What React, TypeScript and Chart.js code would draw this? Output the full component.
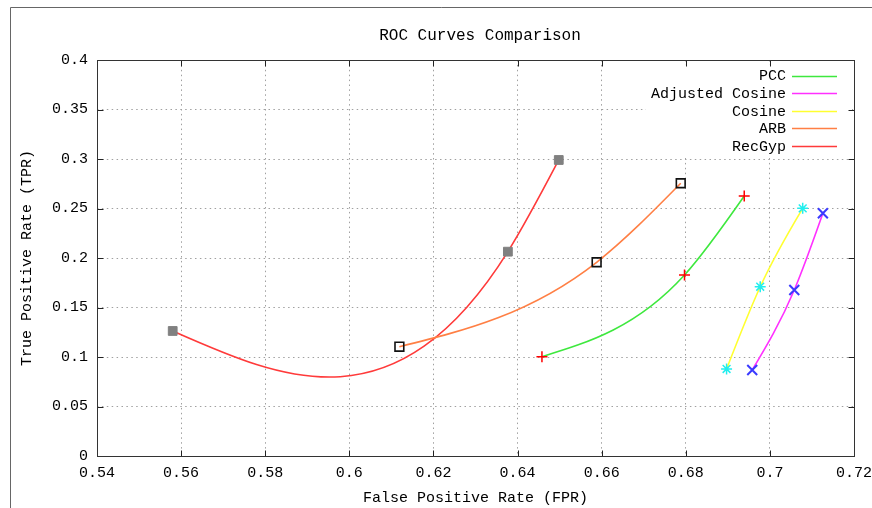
import React, { useEffect, useRef } from "react";
import { Chart, registerables } from "chart.js";

Chart.register(...registerables);

const FONT = "'Liberation Mono', 'DejaVu Sans Mono', monospace";

const chartTitle = "ROC Curves Comparison";
const xAxisTitle = "False Positive Rate (FPR)";
const yAxisTitle = "True Positive Rate (TPR)";

const xTickValues = [0.54, 0.56, 0.58, 0.6, 0.62, 0.64, 0.66, 0.68, 0.7, 0.72];
const xTickLabels = ["0.54", "0.56", "0.58", "0.6", "0.62", "0.64", "0.66", "0.68", "0.7", "0.72"];
const yTickValues = [0, 0.05, 0.1, 0.15, 0.2, 0.25, 0.3, 0.35, 0.4];
const yTickLabels = ["0", "0.05", "0.1", "0.15", "0.2", "0.25", "0.3", "0.35", "0.4"];

const seriesNames = ["PCC", "Adjusted Cosine", "Cosine", "ARB", "RecGyp"];

const pccFpr = [0.6458, 0.6797, 0.6939];
const pccTpr = [0.1003, 0.1828, 0.2626];

const adjCosineFpr = [0.6958, 0.7058, 0.7126];
const adjCosineTpr = [0.0869, 0.1677, 0.2452];

const cosineFpr = [0.6897, 0.6977, 0.7078];
const cosineTpr = [0.0879, 0.171, 0.2502];

const arbFpr = [0.6119, 0.6588, 0.6788];
const arbTpr = [0.1104, 0.1957, 0.2755];

const recGypFpr = [0.558, 0.6377, 0.6498];
const recGypTpr = [0.1263, 0.2064, 0.299];

const lineColors = ["#3ee83e", "#ff30ff", "#ffff30", "#ff7f44", "#ff3a3a"];

function pairs(xs: number[], ys: number[]) {
  return xs.map((x, i) => ({ x, y: ys[i] }));
}

// natural cubic spline second derivatives (gnuplot "smooth csplines")
function naturalM(xs: number[], ys: number[]): number[] {
  const n = xs.length;
  const M = new Array(n).fill(0);
  if (n > 2) {
    const a: number[] = [], b: number[] = [], c: number[] = [], d: number[] = [];
    for (let i = 1; i < n - 1; i++) {
      const h0 = xs[i] - xs[i - 1];
      const h1 = xs[i + 1] - xs[i];
      a.push(h0);
      b.push(2 * (h0 + h1));
      c.push(h1);
      d.push(6 * ((ys[i + 1] - ys[i]) / h1 - (ys[i] - ys[i - 1]) / h0));
    }
    const m = b.length;
    for (let i = 1; i < m; i++) {
      const w = a[i] / b[i - 1];
      b[i] -= w * c[i - 1];
      d[i] -= w * d[i - 1];
    }
    const sol = new Array(m);
    sol[m - 1] = d[m - 1] / b[m - 1];
    for (let i = m - 2; i >= 0; i--) sol[i] = (d[i] - c[i] * sol[i + 1]) / b[i];
    for (let i = 0; i < m; i++) M[i + 1] = sol[i];
  }
  return M;
}

const splinePlugin = {
  id: "naturalSpline",
  afterDatasetsUpdate(chart: any) {
    const xs = chart.scales.x;
    const ys = chart.scales.y;
    chart.data.datasets.forEach((ds: any, di: number) => {
      const meta = chart.getDatasetMeta(di);
      const line = meta.dataset;
      const pts = meta.data;
      if (!line || !pts || !pts.length) return;
      const vx = ds.data.map((p: any) => p.x);
      const vy = ds.data.map((p: any) => p.y);
      const M = naturalM(vx, vy);
      for (const p of pts) {
        p.cp1x = p.x; p.cp1y = p.y; p.cp2x = p.x; p.cp2y = p.y;
      }
      for (let i = 0; i < vx.length - 1; i++) {
        const h = vx[i + 1] - vx[i];
        const s = (vy[i + 1] - vy[i]) / h;
        const d0 = s - (h * (2 * M[i] + M[i + 1])) / 6;
        const d1 = s + (h * (M[i] + 2 * M[i + 1])) / 6;
        pts[i].cp2x = xs.getPixelForValue(vx[i] + h / 3);
        pts[i].cp2y = ys.getPixelForValue(vy[i] + (d0 * h) / 3);
        pts[i + 1].cp1x = xs.getPixelForValue(vx[i + 1] - h / 3);
        pts[i + 1].cp1y = ys.getPixelForValue(vy[i + 1] - (d1 * h) / 3);
      }
      line._pointsUpdated = true;
    });
  },
};

const decorPlugin = {
  id: "decor",
  beforeDatasetsDraw(chart: any) {
    const ctx = chart.ctx;
    ctx.save();
    ctx.fillStyle = "#ffffff";
    ctx.fillRect(646, 65, 206, 90);
    ctx.restore();
  },
  afterDraw(chart: any) {
    const ctx = chart.ctx;
    const { left, right, top, bottom } = chart.chartArea;
    const L = Math.round(left) + 0.5;
    const R = Math.round(right) + 0.5;
    const T = Math.round(top) + 0.5;
    const B = Math.round(bottom) + 0.5;
    ctx.save();
    // outer window frame
    ctx.strokeStyle = "#666";
    ctx.lineWidth = 1;
    ctx.beginPath();
    ctx.moveTo(10.5, 508);
    ctx.lineTo(10.5, 7.5);
    ctx.lineTo(872, 7.5);
    ctx.stroke();

    // title
    ctx.fillStyle = "#000";
    ctx.font = `16px ${FONT}`;
    ctx.textAlign = "center";
    ctx.textBaseline = "middle";
    ctx.fillText(chartTitle, 480, 36);

    // inward ticks on all four sides
    ctx.strokeStyle = "#222";
    ctx.beginPath();
    const xs = chart.scales.x;
    const ys = chart.scales.y;
    xs.ticks.forEach((_t: any, i: number) => {
      const px = Math.round(xs.getPixelForTick(i)) + 0.5;
      ctx.moveTo(px, B); ctx.lineTo(px, B - 6);
      ctx.moveTo(px, T); ctx.lineTo(px, T + 6);
    });
    ys.ticks.forEach((_t: any, i: number) => {
      const py = Math.round(ys.getPixelForTick(i)) + 0.5;
      ctx.moveTo(L, py); ctx.lineTo(L + 6, py);
      ctx.moveTo(R, py); ctx.lineTo(R - 6, py);
    });
    ctx.stroke();

    // plot border
    ctx.strokeStyle = "#333";
    ctx.strokeRect(L, T, R - L, B - T);

    // legend
    ctx.font = `15px ${FONT}`;
    ctx.textAlign = "right";
    ctx.textBaseline = "middle";
    seriesNames.forEach((name, i) => {
      const y = 75.5 + i * 17.6;
      ctx.fillStyle = "#000";
      ctx.fillText(name, 786, y + 1);
      ctx.strokeStyle = lineColors[i];
      ctx.lineWidth = 1.6;
      ctx.beginPath();
      ctx.moveTo(792, Math.round(y) + 0.5);
      ctx.lineTo(837, Math.round(y) + 0.5);
      ctx.stroke();
    });
    ctx.restore();
  },
};

export default function App() {
  const canvasRef = useRef<HTMLCanvasElement | null>(null);

  useEffect(() => {
    document.body.style.margin = "0";
    const canvas = canvasRef.current;
    if (!canvas) return;
    const baseLine = { showLine: true, tension: 0.4, borderWidth: 1.6, fill: false };
    const chart = new Chart(canvas, {
      type: "scatter",
      data: {
        datasets: [
          {
            ...baseLine,
            label: seriesNames[0],
            data: pairs(pccFpr, pccTpr),
            borderColor: lineColors[0],
            pointStyle: "cross",
            pointRadius: 5.5,
            pointBorderColor: "#ff0000",
            pointBorderWidth: 1.5,
          },
          {
            ...baseLine,
            label: seriesNames[1],
            data: pairs(adjCosineFpr, adjCosineTpr),
            borderColor: lineColors[1],
            pointStyle: "crossRot",
            pointRadius: 7,
            pointBorderColor: "#3a3aff",
            pointBorderWidth: 2,
          },
          {
            ...baseLine,
            label: seriesNames[2],
            data: pairs(cosineFpr, cosineTpr),
            borderColor: lineColors[2],
            pointStyle: "star",
            pointRadius: 5.5,
            pointBorderColor: "#22eeee",
            pointBorderWidth: 1.5,
          },
          {
            ...baseLine,
            label: seriesNames[3],
            data: pairs(arbFpr, arbTpr),
            borderColor: lineColors[3],
            pointStyle: "rect",
            pointRadius: 6.2,
            pointBackgroundColor: "rgba(255,255,255,0)",
            pointBorderColor: "#111",
            pointBorderWidth: 1.6,
          },
          {
            ...baseLine,
            label: seriesNames[4],
            data: pairs(recGypFpr, recGypTpr),
            borderColor: lineColors[4],
            pointStyle: "rect",
            pointRadius: 6.2,
            pointBackgroundColor: "#808080",
            pointBorderColor: "#808080",
            pointBorderWidth: 1,
          },
        ],
      },
      options: {
        responsive: false,
        animation: false,
        events: [],
        layout: { padding: { top: 60, left: 10, right: 18, bottom: 0 } },
        plugins: {
          legend: { display: false },
          title: { display: false },
          tooltip: { enabled: false },
        },
        scales: {
          x: {
            type: "linear",
            min: 0.54,
            max: 0.72,
            afterBuildTicks: (s: any) => {
              s.ticks = xTickValues.map((v) => ({ value: v }));
            },
            afterFit: (s: any) => {
              s.height = 52;
              s.paddingLeft = 0;
              s.paddingRight = 0;
            },
            ticks: {
              callback: (_v: any, i: number) => xTickLabels[i],
              autoSkip: false,
              maxRotation: 0,
              padding: 8,
              color: "#000",
              font: { family: FONT, size: 15 },
            },
            grid: { color: "#a0a0a0", lineWidth: 1, drawTicks: false },
            border: { display: false, dash: [1.5, 3.4] },
            title: {
              display: true,
              text: xAxisTitle,
              color: "#000",
              font: { family: FONT, size: 15 },
              padding: { top: 0, bottom: 1 },
            },
          },
          y: {
            type: "linear",
            min: 0,
            max: 0.4,
            afterBuildTicks: (s: any) => {
              s.ticks = yTickValues.map((v) => ({ value: v }));
            },
            afterFit: (s: any) => {
              s.width = 87;
              s.paddingTop = 0;
              s.paddingBottom = 0;
            },
            ticks: {
              callback: (_v: any, i: number) => yTickLabels[i],
              autoSkip: false,
              padding: 9,
              color: "#000",
              font: { family: FONT, size: 15 },
            },
            grid: { color: "#a0a0a0", lineWidth: 1, drawTicks: false },
            border: { display: false, dash: [1.5, 3.4] },
            title: {
              display: true,
              text: yAxisTitle,
              color: "#000",
              font: { family: FONT, size: 15 },
              padding: { top: 8, bottom: 0 },
            },
          },
        },
      },
      plugins: [splinePlugin, decorPlugin],
    } as any);
    return () => chart.destroy();
  }, []);

  return (
    <div style={{ position: "fixed", left: 0, top: 0, width: 872, height: 508, background: "#fff" }}>
      <canvas ref={canvasRef} width={872} height={508} style={{ display: "block", width: 872, height: 508 }} />
    </div>
  );
}
